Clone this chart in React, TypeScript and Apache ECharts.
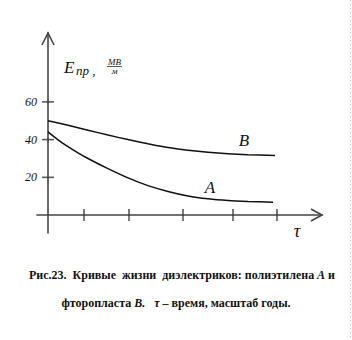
import React, { useEffect, useRef } from "react";
import * as echarts from "echarts";

// x positions are in the figure's own (unscaled) time units, origin at the y axis
const tauA = [0, 10, 20, 30, 40, 60, 80, 100, 120, 140, 160, 180, 200, 225];
const curveA = [44.1, 39.9, 36.3, 33.0, 30.0, 24.6, 19.7, 15.6, 12.5, 10.1, 8.6, 7.7, 7.2, 6.8];
const tauB = [0, 20, 40, 60, 80, 100, 120, 140, 160, 180, 200, 227];
const curveB = [50.0, 47.6, 45.0, 42.4, 40.0, 37.8, 35.8, 34.4, 33.3, 32.5, 32.0, 31.6];
const xTicks = [36, 81, 135, 185, 229];
const yTickLabels = [20, 40, 60];
const labelA = { name: "A", coord: [162, 14.4] };
const labelB = { name: "B", coord: [196, 39.4] };

const SERIF = "Liberation Serif";

export default function App() {
  const ref = useRef<HTMLDivElement>(null);
  useEffect(() => {
    if (!ref.current) return;
    const chart = echarts.init(ref.current, undefined, { renderer: "svg" });
    const axisColor = "#444";
    const letterLabel = {
      show: true,
      position: "inside",
      fontFamily: SERIF,
      fontStyle: "italic",
      fontSize: 17,
      color: "#111",
      formatter: (p: any) => p.name,
    };
    const capRich = {
      i: { fontFamily: SERIF, fontWeight: "bold", fontStyle: "italic", fontSize: 12, fill: "#111" },
    };
    chart.setOption({
      animation: false,
      backgroundColor: "#fff",
      grid: { left: 37, right: 30, top: 33, bottom: 107, containLabel: false },
      xAxis: {
        type: "value",
        min: -11,
        max: 274,
        axisLine: { onZero: true, lineStyle: { color: axisColor, width: 1.6 } },
        axisTick: { show: false },
        axisLabel: { show: false },
        splitLine: { show: false },
      },
      yAxis: {
        type: "value",
        min: -9.5,
        max: 96.5,
        axisLine: { onZero: true, lineStyle: { color: axisColor, width: 1.6 } },
        axisTick: { show: false },
        axisLabel: {
          customValues: yTickLabels,
          margin: 0,
          fontFamily: SERIF,
          fontStyle: "italic",
          fontSize: 12,
          color: "#111",
        },
        splitLine: { show: false },
      },
      series: [
        {
          type: "line",
          name: "A",
          data: tauA.map((t, i) => [t, curveA[i]]),
          smooth: 0.3,
          showSymbol: false,
          lineStyle: { color: "#111", width: 1.5 },
          markPoint: {
            symbol: "circle",
            symbolSize: 0,
            label: letterLabel,
            data: [labelA],
          },
        },
        {
          type: "line",
          name: "B",
          data: tauB.map((t, i) => [t, curveB[i]]),
          smooth: 0.3,
          showSymbol: false,
          lineStyle: { color: "#111", width: 1.5 },
          markPoint: {
            symbol: "circle",
            symbolSize: 0,
            label: letterLabel,
            data: [labelB],
          },
        },
        {
          type: "scatter",
          data: xTicks.map((t) => [t, 0]),
          symbol: "rect",
          symbolSize: [1.6, 12],
          itemStyle: { color: "#333" },
          silent: true,
        },
        {
          type: "scatter",
          data: yTickLabels.map((v) => [0, v]),
          symbol: "rect",
          symbolSize: [12, 1.6],
          itemStyle: { color: "#333" },
          silent: true,
        },
      ],
      graphic: [
        // axis arrowheads
        {
          type: "polyline",
          shape: { points: [[42, 45], [48, 33], [54, 45]] },
          style: { stroke: axisColor, lineWidth: 1.6, fill: "none" },
        },
        {
          type: "polyline",
          shape: { points: [[311, 209], [322, 215], [311, 221]] },
          style: { stroke: axisColor, lineWidth: 1.6, fill: "none" },
        },
        // y-axis title E_пр, МВ/м
        {
          type: "text",
          x: 64,
          y: 67,
          style: {
            text: "E",
            fontFamily: SERIF,
            fontStyle: "italic",
            fontSize: 17,
            fill: "#111",
            verticalAlign: "middle",
          },
        },
        {
          type: "text",
          x: 76,
          y: 70,
          style: {
            text: "пр ,",
            fontFamily: SERIF,
            fontStyle: "italic",
            fontSize: 13,
            fill: "#111",
            verticalAlign: "middle",
          },
        },
        {
          type: "text",
          x: 114.5,
          y: 62,
          style: {
            text: "МВ",
            fontFamily: SERIF,
            fontStyle: "italic",
            fontSize: 9,
            fill: "#111",
            align: "center",
            verticalAlign: "middle",
          },
        },
        {
          type: "line",
          shape: { x1: 107, y1: 66.5, x2: 122, y2: 66.5 },
          style: { stroke: "#333", lineWidth: 0.8 },
        },
        {
          type: "text",
          x: 114.5,
          y: 71,
          style: {
            text: "м",
            fontFamily: SERIF,
            fontStyle: "italic",
            fontSize: 9,
            fill: "#111",
            align: "center",
            verticalAlign: "middle",
          },
        },
        // x-axis title τ
        {
          type: "text",
          x: 297,
          y: 231,
          style: {
            text: "τ",
            fontFamily: SERIF,
            fontStyle: "italic",
            fontSize: 18,
            fill: "#111",
            align: "center",
            verticalAlign: "middle",
          },
        },
        // caption
        {
          type: "text",
          x: 182,
          y: 275,
          style: {
            text: "Рис.23.  Кривые  жизни  диэлектриков: полиэтилена {i|А} и",
            fontFamily: SERIF,
            fontWeight: "bold",
            fontSize: 12,
            fill: "#111",
            align: "center",
            verticalAlign: "middle",
            rich: capRich,
          },
        },
        {
          type: "text",
          x: 176,
          y: 303,
          style: {
            text: "фторопласта {i|В.}   {i|τ} – время, масштаб годы.",
            fontFamily: SERIF,
            fontWeight: "bold",
            fontSize: 12,
            fill: "#111",
            align: "center",
            verticalAlign: "middle",
            rich: capRich,
          },
        },
        // dotted page edge on the right
        {
          type: "line",
          shape: { x1: 350.5, y1: 0, x2: 350.5, y2: 340 },
          style: { stroke: "#bbb", lineWidth: 1, lineDash: [1, 3] },
        },
      ],
    });
    return () => chart.dispose();
  }, []);
  return <div ref={ref} style={{ width: 352, height: 340, position: "absolute", left: 0, top: 0 }} />;
}
